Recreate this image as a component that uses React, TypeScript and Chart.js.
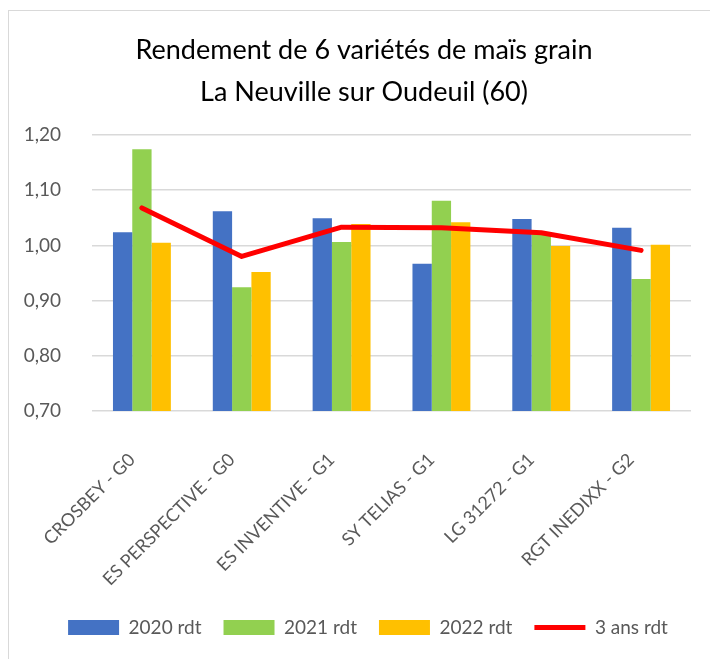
import React, { useEffect, useRef } from "react";
import { Chart, registerables } from "chart.js";

Chart.register(...registerables);

const categories = [
  "CROSBEY - G0",
  "ES PERSPECTIVE - G0",
  "ES INVENTIVE - G1",
  "SY TELIAS - G1",
  "LG 31272 - G1",
  "RGT INEDIXX - G2",
];
const rdt2020 = [1.024, 1.062, 1.049, 0.967, 1.048, 1.032];
const rdt2021 = [1.174, 0.924, 1.006, 1.081, 1.022, 0.939];
const rdt2022 = [1.005, 0.952, 1.039, 1.042, 0.999, 1.001];
const rdt3ans = [1.068, 0.98, 1.033, 1.032, 1.023, 0.991];
const yTickValues = [0.7, 0.8, 0.9, 1.0, 1.1, 1.2];
const yTickLabels = ["0,70", "0,80", "0,90", "1,00", "1,10", "1,20"];
const titleLines = ["Rendement de 6 variétés de maïs grain", "La Neuville sur Oudeuil (60)"];
const seriesNames = ["2020 rdt", "2021 rdt", "2022 rdt", "3 ans rdt"];

const FONT = "Lato, 'Open Sans', sans-serif";
const GRAY = "#595959";
const CANVAS_W = 740;
const CANVAS_H = 659;

const legendShift = {
  id: "legendShift",
  afterLayout(chart: any) {
    if (chart.legend) {
      chart.legend.left += 4;
      chart.legend.right += 4;
    }
  },
};

export default function App() {
  const ref = useRef<HTMLCanvasElement | null>(null);

  useEffect(() => {
    if (!ref.current) return;
    const chart = new Chart(ref.current, {
      type: "bar",
      data: {
        labels: categories,
        datasets: [
          {
            type: "bar",
            label: seriesNames[0],
            data: rdt2020,
            backgroundColor: "#4472C4",
            pointStyle: "rect",
            order: 1,
          },
          {
            type: "bar",
            label: seriesNames[1],
            data: rdt2021,
            backgroundColor: "#92D050",
            pointStyle: "rect",
            order: 1,
          },
          {
            type: "bar",
            label: seriesNames[2],
            data: rdt2022,
            backgroundColor: "#FFC000",
            pointStyle: "rect",
            order: 1,
          },
          {
            type: "line",
            label: seriesNames[3],
            data: rdt3ans,
            borderColor: "#FF0000",
            backgroundColor: "#FF0000",
            borderWidth: 5,
            borderCapStyle: "round",
            borderJoinStyle: "round",
            pointRadius: 0,
            pointStyle: "line",
            order: 0,
          },
        ],
      } as any,
      options: {
        responsive: false,
        animation: false,
        layout: { padding: { left: 0, right: 12, top: 21, bottom: 12 } },
        datasets: {
          bar: { categoryPercentage: 0.58, barPercentage: 1 },
        } as any,
        scales: {
          x: {
            grid: { display: false },
            border: { display: false },
            ticks: {
              color: GRAY,
              font: { family: FONT, size: 18 },
              minRotation: 45,
              maxRotation: 45,
              padding: 30,
              labelOffset: -10,
            },
            afterFit: (s: any) => {
              s.paddingLeft = 0;
              s.paddingRight = 0;
              s.height = 185;
            },
          },
          y: {
            min: 0.7,
            max: 1.2,
            afterBuildTicks: (s: any) => {
              s.ticks = yTickValues.map((v) => ({ value: v }));
            },
            afterFit: (s: any) => {
              s.width = 92;
            },
            ticks: {
              color: GRAY,
              font: { family: FONT, size: 19 },
              padding: 31,
              callback: (v: any) => {
                const i = yTickValues.findIndex((t) => Math.abs(t - Number(v)) < 1e-6);
                return i >= 0 ? yTickLabels[i] : "";
              },
            },
            grid: { color: "#d9d9d9", lineWidth: 1.5, drawTicks: false },
            border: { display: false },
          },
          y2: {
            type: "linear",
            position: "right",
            display: true,
            grid: { display: false },
            border: { display: false },
            ticks: { display: false },
            afterFit: (s: any) => {
              s.width = 37;
            },
          },
        } as any,
        plugins: {
          title: {
            display: true,
            text: titleLines,
            color: "#000000",
            font: { family: FONT, size: 27, weight: "normal", lineHeight: 1.556 },
            padding: { top: 8, bottom: 22 },
          },
          legend: {
            position: "bottom",
            labels: {
              usePointStyle: true,
              pointStyleWidth: 51,
              boxHeight: 15,
              padding: 22,
              color: GRAY,
              font: { family: FONT, size: 19 },
              sort: (a: any, b: any) => a.datasetIndex - b.datasetIndex,
            },
          },
          tooltip: { enabled: false },
        },
      } as any,
      plugins: [legendShift],
    });
    return () => chart.destroy();
  }, []);

  return (
    <div
      style={{
        position: "fixed",
        left: 0,
        top: 0,
        width: 710,
        height: 659,
        overflow: "hidden",
        background: "#ffffff",
      }}
    >
      <div
        style={{
          position: "absolute",
          left: 8,
          top: 10,
          width: 800,
          height: 800,
          border: "1.5px solid #d9d9d9",
          boxSizing: "border-box",
        }}
      />
      <canvas
        ref={ref}
        width={CANVAS_W}
        height={CANVAS_H}
        style={{ position: "absolute", left: 0, top: 0, width: CANVAS_W, height: CANVAS_H }}
      />
    </div>
  );
}
